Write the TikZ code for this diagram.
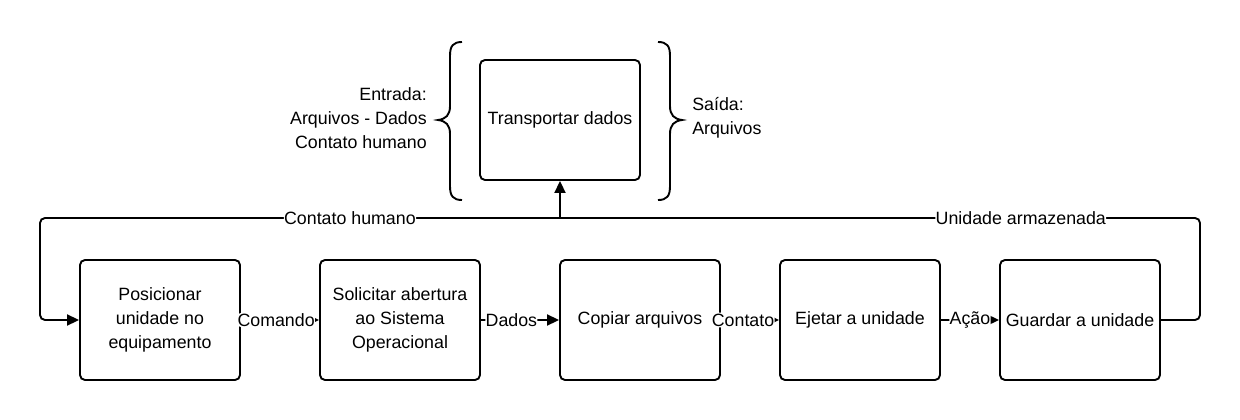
\documentclass[tikz,border=0pt]{standalone}
\usepackage{fontspec}
\setmainfont{Liberation Sans}
\usetikzlibrary{arrows.meta}
\begin{document}
\begin{tikzpicture}[x=1pt,y=-1pt,
  line width=1.9pt,
  every node/.style={font=\fontsize{17.8}{24}\selectfont},
  stepbox/.style={draw,rounded corners=5pt,minimum width=160pt,minimum height=120pt,inner sep=0pt,align=center},
  lbl/.style={fill=white,inner xsep=0.3pt,inner ysep=1pt},
  conn/.style={-{Triangle[length=12pt,width=11pt]},rounded corners=5pt},
  brace/.style={line width=1.9pt}]
\useasboundingbox (0,0) rectangle (1240,420);
\node[stepbox] (T) at (560,120) {Transportar dados};
\node[stepbox] (b1) at (160,320) {Posicionar\\unidade no\\equipamento};
\node[stepbox] (b2) at (400,320) {Solicitar abertura\\ao Sistema\\Operacional};
\node[stepbox] (b3) at (640,320) {Copiar arquivos};
\node[stepbox] (b4) at (860,320) {Ejetar a unidade};
\node[stepbox] (b5) at (1080,320) {Guardar a unidade};
\node[align=right,anchor=east] (inp) at (431,118) {Entrada:\\Arquivos - Dados\\Contato humano};
\node[align=left,anchor=west] (out) at (688,118) {Saída:\\Arquivos};
\coordinate (j) at (560,218);
\coordinate (lc) at (40,218);
\coordinate (ld) at (40,320);
\coordinate (rc) at (1200,320);
\coordinate (ru) at (1200,218);
% braces
\draw[brace] (462,42) .. controls (453,42) and (450,46) .. (450,56) -- (450,106) .. controls (450,115) and (446,119) .. (438,120) .. controls (446,121) and (450,125) .. (450,134) -- (450,186) .. controls (450,196) and (453,200) .. (462,200);
\draw[brace] (658,42) .. controls (667,42) and (670,46) .. (670,56) -- (670,106) .. controls (670,115) and (674,119) .. (682,120) .. controls (674,121) and (670,125) .. (670,134) -- (670,186) .. controls (670,196) and (667,200) .. (658,200);
% connectors
\draw[conn] (j) -- (T.south);
\draw[conn] (j) -- node[lbl,pos=0.404] (l1) {Contato humano} (lc) -- (ld) -- (b1.west);
\draw[rounded corners=5pt] (b5.east) -- (rc) -- (ru) -- node[lbl,pos=0.28] (l2) {Unidade armazenada} (j);
\draw[conn] (b1.east) -- node[lbl,pos=0.45] (l3) {Comando} (b2.west);
\draw[conn] (b2.east) -- node[lbl,pos=0.39] (l4) {Dados} (b3.west);
\draw[conn] (b3.east) -- node[lbl,pos=0.38] (l5) {Contato} (b4.west);
\draw[conn] (b4.east) -- node[lbl,pos=0.5] (l6) {Ação} (b5.west);
\end{tikzpicture}
\end{document}
